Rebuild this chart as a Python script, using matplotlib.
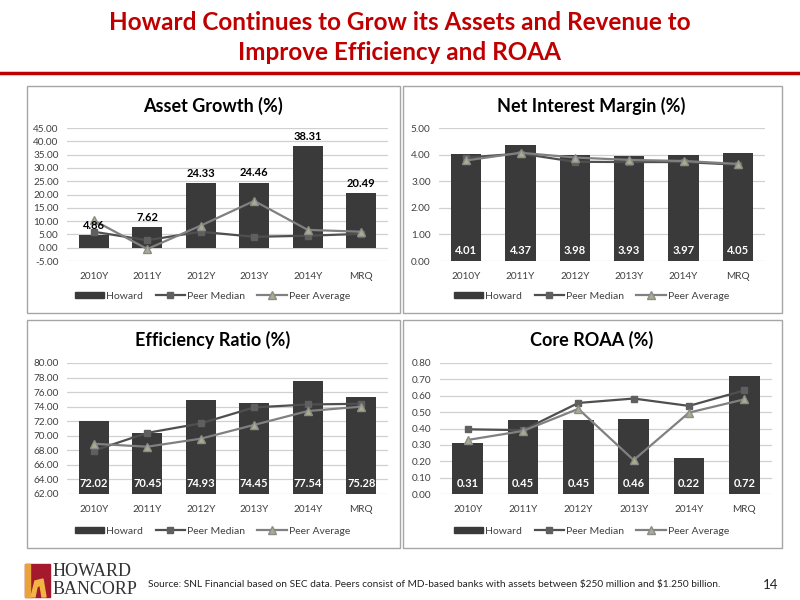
import matplotlib.pyplot as plt
from matplotlib.patches import Rectangle, Polygon
from matplotlib.lines import Line2D

plt.rcParams['font.family'] = ['Lato', 'DejaVu Sans']

categories = ['2010Y', '2011Y', '2012Y', '2013Y', '2014Y', 'MRQ']

asset_howard = [4.86, 7.62, 24.33, 24.46, 38.31, 20.49]
asset_median = [6.0, 2.8, 6.0, 4.1, 4.5, 5.2]
asset_average = [10.3, -0.5, 8.3, 17.6, 6.7, 6.0]

nim_howard = [4.01, 4.37, 3.98, 3.93, 3.97, 4.05]
nim_median = [3.89, 4.04, 3.73, 3.72, 3.72, 3.62]
nim_average = [3.78, 4.07, 3.89, 3.80, 3.76, 3.65]

eff_howard = [72.02, 70.45, 74.93, 74.45, 77.54, 75.28]
eff_median = [67.95, 70.4, 71.7, 73.9, 74.3, 74.4]
eff_average = [68.9, 68.5, 69.6, 71.5, 73.4, 74.0]

roaa_howard = [0.31, 0.45, 0.45, 0.46, 0.22, 0.72]
roaa_median = [0.395, 0.39, 0.556, 0.583, 0.538, 0.633]
roaa_average = [0.33, 0.385, 0.52, 0.207, 0.497, 0.578]

BAR = '#3a3a3a'
MED = '#4f4f4f'
AVG = '#808080'
TRI = '#a8ad8a'
W, H = 800, 600

fig = plt.figure(figsize=(8, 6), dpi=100)


def rect(x0, y0, x1, y1):
    return [x0 / W, 1 - y1 / H, (x1 - x0) / W, (y1 - y0) / H]


def panel(box, plot, title, howard, median, average, ylim, step, inside):
    bx0, by0, bx1, by1 = box
    fig.patches.append(Rectangle((bx0 / W, 1 - by1 / H), (bx1 - bx0) / W, (by1 - by0) / H,
                                 transform=fig.transFigure, fill=False,
                                 edgecolor='#a6a6a6', linewidth=1.0))
    ax = fig.add_axes(rect(*plot))
    x = list(range(len(categories)))
    ax.bar(x, [h - ylim[0] if inside else h for h in howard], width=0.56,
           bottom=ylim[0] if inside else 0, color=BAR, zorder=2)
    ax.plot(x, median, color=MED, linewidth=1.6, marker='s', markersize=5,
            markerfacecolor='#5f5f5f', markeredgecolor='#5f5f5f', zorder=3)
    ax.plot(x, average, color=AVG, linewidth=1.6, marker='^', markersize=6,
            markerfacecolor=TRI, markeredgecolor='#8c8c8c', zorder=4)
    for i, v in enumerate(howard):
        if inside:
            ax.annotate(f'{v:.2f}', (i, ylim[0]), xytext=(0, 7.5), textcoords='offset points',
                        ha='center', va='center', color='white', fontsize=8,
                        fontweight='bold', zorder=5)
        else:
            ax.annotate(f'{v:.2f}', (i, v), xytext=(0, 3), textcoords='offset points',
                        ha='center', va='bottom', color='black', fontsize=8,
                        fontweight='bold', zorder=5)
    ax.set_xlim(-0.5, len(categories) - 0.5)
    ax.set_ylim(*ylim)
    ticks = []
    t = ylim[0]
    while t <= ylim[1] + 1e-9:
        ticks.append(round(t, 4))
        t += step
    ax.set_yticks(ticks)
    ax.set_yticklabels([f'{t:.2f}' for t in ticks])
    ax.set_xticks(x)
    ax.set_xticklabels(categories)
    ax.tick_params(axis='both', length=0, labelsize=7.2, colors='#404040')
    ax.tick_params(axis='x', pad=8)
    ax.tick_params(axis='y', pad=6)
    ax.yaxis.grid(True, color='#d0d0d0', linewidth=0.9, zorder=0)
    ax.set_axisbelow(True)
    for s in ax.spines.values():
        s.set_visible(False)
    ax.set_facecolor('none')
    cx = (bx0 + bx1) / 2 - 1
    fig.text(cx / W, 1 - (by0 + 20) / H, title, ha='center', va='center',
             fontsize=13, fontweight='bold', color='black')
    handles = [Rectangle((0, 0), 1, 1, color=BAR),
               Line2D([], [], color=MED, linewidth=1.6, marker='s', markersize=5,
                      markerfacecolor='#5f5f5f', markeredgecolor='#5f5f5f'),
               Line2D([], [], color=AVG, linewidth=1.6, marker='^', markersize=6,
                      markerfacecolor=TRI, markeredgecolor='#8c8c8c')]
    fig.legend(handles, ['Howard', 'Peer Median', 'Peer Average'], ncol=3,
               loc='center', bbox_to_anchor=(cx / W, 1 - (by1 - 17) / H),
               frameon=False, fontsize=7.5, handlelength=2.8, handleheight=0.6,
               columnspacing=1.2, handletextpad=0.2, labelcolor='#404040')


panel((27, 86, 400, 313), (67, 128, 388, 261), 'Asset Growth (%)',
      asset_howard, asset_median, asset_average, (-5, 45), 5, False)
panel((403, 86, 782, 313), (439, 128, 765, 261), 'Net Interest Margin (%)',
      nim_howard, nim_median, nim_average, (0, 5), 1, True)
panel((27, 320, 400, 548), (67, 363, 388, 494), 'Efficiency Ratio (%)',
      eff_howard, eff_median, eff_average, (62, 80), 2, True)
panel((403, 320, 782, 548), (440, 363, 772, 494), 'Core ROAA (%)',
      roaa_howard, roaa_median, roaa_average, (0, 0.8), 0.1, True)

# title and rule
fig.text(0.5, 1 - 22 / H, 'Howard Continues to Grow its Assets and Revenue to',
         ha='center', va='center', fontsize=17.5, fontweight='bold', color='#c00000')
fig.text(0.5, 1 - 52 / H, 'Improve Efficiency and ROAA',
         ha='center', va='center', fontsize=17.5, fontweight='bold', color='#c00000')
fig.lines.append(Line2D([0, 1], [1 - 73 / H, 1 - 73 / H], transform=fig.transFigure,
                        color='#c00000', linewidth=2.5))

# logo
fig.patches.append(Rectangle((25 / W, 1 - 597 / H), 25 / W, 33 / H,
                             transform=fig.transFigure, color='#a5192e'))
fig.patches.append(Rectangle((25 / W, 1 - 597 / H), 5 / W, 33 / H,
                             transform=fig.transFigure, color='#e8a33a'))
fig.patches.append(Polygon([(31 / W, 1 - 597 / H), (35 / W, 1 - 581 / H), (43 / W, 1 - 579 / H),
                            (46 / W, 1 - 597 / H), (42 / W, 1 - 597 / H), (40 / W, 1 - 585 / H),
                            (37 / W, 1 - 587 / H), (35 / W, 1 - 597 / H)],
                           transform=fig.transFigure, color='#f2b544'))
fig.text(53 / W, 1 - 572 / H, 'HOWARD', ha='left', va='center', fontsize=13,
         family='Liberation Serif', color='#333333')
fig.text(53 / W, 1 - 589 / H, 'BANCORP', ha='left', va='center', fontsize=13,
         family='Liberation Serif', color='#333333')

fig.text(148 / W, 1 - 585 / H,
         r'Source: SNL Financial based on SEC data. Peers consist of MD-based banks with assets between \$250 million and \$1.250 billion.',
         ha='left', va='center', fontsize=7.3, color='#222222')
fig.text(778 / W, 1 - 585 / H, '14', ha='right', va='center', fontsize=9.5, color='#222222')

fig.savefig('out.png', dpi=100)
